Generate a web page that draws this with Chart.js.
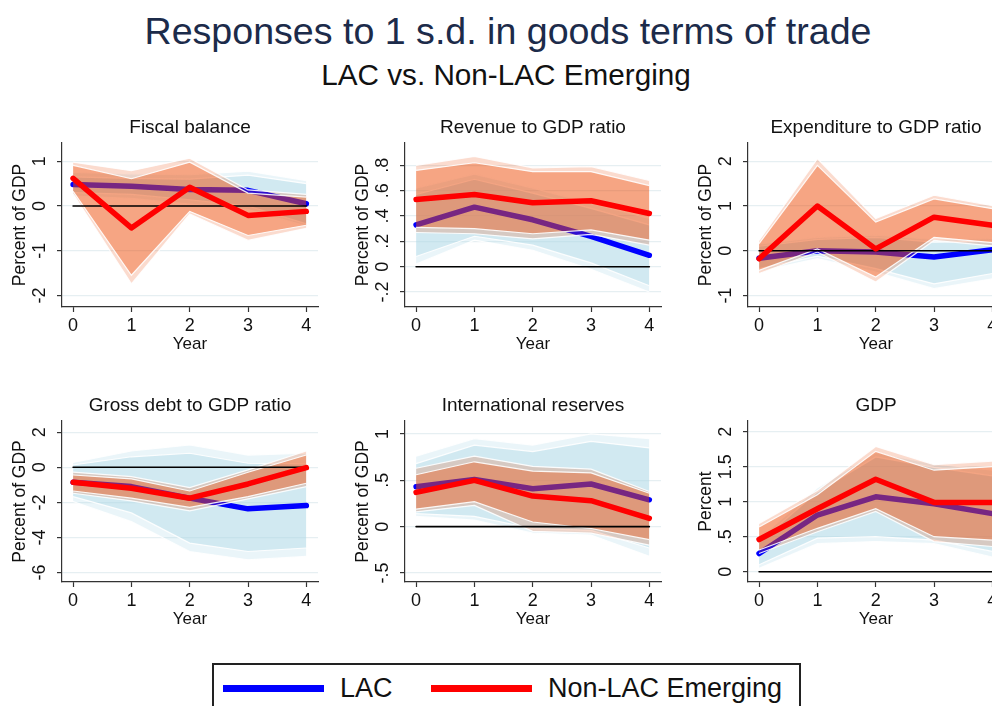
<!DOCTYPE html>
<html>
<head>
<meta charset="utf-8">
<script src="https://cdn.jsdelivr.net/npm/chart.js@4.4.1/dist/chart.umd.min.js"></script>
<style>
  html, body { margin: 0; padding: 0; background: #fff; }
  #page { position: relative; width: 992px; height: 706px; overflow: hidden; background: #fff;
          font-family: "Liberation Sans", Arial, sans-serif; }
  .txt { position: absolute; white-space: nowrap; text-align: center; }
  #mainTitle { left: 0; width: 1016px; top: 11px; font-size: 37.6px; line-height: 40px; color: #1c2b4a; }
  #subTitle { left: 0; width: 1012px; top: 59px; font-size: 29.7px; line-height: 32px; color: #111; }
  .panel { position: absolute; }
  .panel canvas { display: block; }
  #legendBox { position: absolute; left: 212px; top: 663px; width: 585px; height: 60px; border: 2px solid #222; }
  .legLine { position: absolute; height: 7px; }
  .legText { position: absolute; font-size: 27px; line-height: 30px; color: #111; text-align: left; }
</style>
</head>
<body>
<div id="page">
  <div id="mainTitle" class="txt">Responses to 1 s.d. in goods terms of trade</div>
  <div id="subTitle" class="txt">LAC vs. Non-LAC Emerging</div>

  <div class="panel" style="left:0px;top:110px"><canvas id="p1" width="343" height="245"></canvas></div>
  <div class="panel" style="left:343px;top:110px"><canvas id="p2" width="343" height="245"></canvas></div>
  <div class="panel" style="left:686px;top:110px"><canvas id="p3" width="343" height="245"></canvas></div>
  <div class="panel" style="left:0px;top:388px"><canvas id="p4" width="343" height="242"></canvas></div>
  <div class="panel" style="left:343px;top:388px"><canvas id="p5" width="343" height="242"></canvas></div>
  <div class="panel" style="left:686px;top:388px"><canvas id="p6" width="343" height="242"></canvas></div>

  <div id="legendBox"></div>
  <div class="legLine" style="left:223px;top:685px;width:101px;background:#0000ff"></div>
  <div class="legText" style="left:340px;top:673px">LAC</div>
  <div class="legLine" style="left:431px;top:685px;width:101px;background:#ff0000"></div>
  <div class="legText" style="left:548px;top:673px">Non-LAC Emerging</div>
</div>

<script>
// x values (years after the shock) and a reference line at zero
const years = [0, 1, 2, 3, 4];
const zeroLine = [0, 0, 0, 0, 0];

// Fiscal balance
const fiscalTicks = [-2, -1, 0, 1];
const fiscalLac = [0.48, 0.44, 0.37, 0.35, 0.05];
const fiscalLacHiOuter = [0.75, 0.72, 0.70, 0.78, 0.57];
const fiscalLacHiInner = [0.65, 0.62, 0.60, 0.69, 0.50];
const fiscalLacLoInner = [0.30, 0.26, 0.14, 0.00, -0.40];
const fiscalLacLoOuter = [0.22, 0.17, 0.04, -0.08, -0.45];
const fiscalNl = [0.62, -0.49, 0.42, -0.21, -0.12];
const fiscalNlHiOuter = [0.98, 0.79, 1.07, 0.36, 0.26];
const fiscalNlHiInner = [0.91, 0.61, 0.98, 0.29, 0.20];
const fiscalNlLoInner = [0.33, -1.55, -0.12, -0.66, -0.43];
const fiscalNlLoOuter = [0.27, -1.74, -0.18, -0.77, -0.50];

// Revenue to GDP ratio
const revTicks = [-0.2, 0, 0.2, 0.4, 0.6, 0.8];
const revLac = [0.33, 0.47, 0.37, 0.24, 0.09];
const revLacHiOuter = [0.62, 0.73, 0.62, 0.50, 0.38];
const revLacHiInner = [0.57, 0.69, 0.58, 0.46, 0.33];
const revLacLoInner = [0.08, 0.24, 0.17, 0.03, -0.15];
const revLacLoOuter = [0.02, 0.21, 0.13, -0.02, -0.20];
const revNl = [0.53, 0.57, 0.505, 0.52, 0.42];
const revNlHiOuter = [0.80, 0.87, 0.78, 0.79, 0.68];
const revNlHiInner = [0.76, 0.82, 0.75, 0.75, 0.64];
const revNlLoInner = [0.31, 0.30, 0.26, 0.29, 0.21];
const revNlLoOuter = [0.27, 0.26, 0.22, 0.255, 0.17];

// Expenditure to GDP ratio
const expTicks = [-1, 0, 1, 2];
const expLac = [-0.17, 0.0, -0.03, -0.14, 0.02];
const expLacHiOuter = [0.15, 0.30, 0.35, 0.25, 0.27];
const expLacHiInner = [0.10, 0.25, 0.30, 0.19, 0.21];
const expLacLoInner = [-0.40, -0.12, -0.40, -0.74, -0.51];
const expLacLoOuter = [-0.46, -0.18, -0.48, -0.85, -0.63];
const expNl = [-0.18, 1.0, 0.04, 0.75, 0.57];
const expNlHiOuter = [0.23, 2.06, 0.72, 1.24, 1.01];
const expNlHiInner = [0.16, 1.91, 0.64, 1.16, 0.94];
const expNlLoInner = [-0.44, 0.04, -0.59, 0.30, 0.18];
const expNlLoOuter = [-0.51, -0.03, -0.70, 0.23, 0.11];

// Gross debt to GDP ratio
const debtTicks = [-6, -4, -2, 0, 2];
const debtLac = [-0.85, -1.10, -1.76, -2.37, -2.18];
const debtLacHiOuter = [0.28, 0.93, 1.27, 0.70, 0.80];
const debtLacHiInner = [0.13, 0.60, 0.80, 0.23, 0.20];
const debtLacLoInner = [-1.67, -2.60, -4.32, -4.80, -4.60];
const debtLacLoOuter = [-1.95, -3.10, -4.80, -5.27, -5.08];
const debtNl = [-0.85, -1.19, -1.76, -0.95, -0.02];
const debtNlHiOuter = [-0.28, -0.53, -1.16, -0.15, 0.93];
const debtNlHiInner = [-0.44, -0.66, -1.35, -0.28, 0.70];
const debtNlLoInner = [-1.35, -1.76, -2.29, -1.67, -0.91];
const debtNlLoOuter = [-1.48, -1.91, -2.48, -1.80, -1.10];

// International reserves
const resTicks = [-0.5, 0, 0.5, 1];
const resLac = [0.43, 0.51, 0.41, 0.46, 0.29];
const resLacHiOuter = [0.76, 0.95, 0.88, 1.00, 0.95];
const resLacHiInner = [0.68, 0.88, 0.81, 0.92, 0.85];
const resLacLoInner = [0.14, 0.11, -0.02, -0.04, -0.23];
const resLacLoOuter = [0.11, 0.07, -0.07, -0.09, -0.32];
const resNl = [0.37, 0.50, 0.33, 0.28, 0.09];
const resNlHiOuter = [0.63, 0.76, 0.65, 0.62, 0.38];
const resNlHiInner = [0.56, 0.70, 0.60, 0.58, 0.36];
const resNlLoInner = [0.19, 0.27, 0.05, -0.02, -0.14];
const resNlLoOuter = [0.16, 0.23, -0.05, -0.07, -0.20];

// GDP
const gdpTicks = [0, 0.5, 1, 1.5, 2];
const gdpLac = [0.26, 0.81, 1.07, 0.97, 0.83];
const gdpLacHiOuter = [0.47, 1.20, 1.70, 1.54, 1.45];
const gdpLacHiInner = [0.42, 1.14, 1.64, 1.49, 1.37];
const gdpLacLoInner = [0.10, 0.48, 0.50, 0.45, 0.29];
const gdpLacLoOuter = [0.05, 0.40, 0.43, 0.40, 0.21];
const gdpNl = [0.46, 0.90, 1.32, 0.99, 0.99];
const gdpNlHiOuter = [0.69, 1.16, 1.79, 1.53, 1.58];
const gdpNlHiInner = [0.64, 1.10, 1.72, 1.45, 1.50];
const gdpNlLoInner = [0.31, 0.62, 0.90, 0.50, 0.45];
const gdpNlLoOuter = [0.26, 0.57, 0.86, 0.43, 0.36];

const panels = [
    { id: 'p1', title: 'Fiscal balance', yTitle: 'Percent of GDP', yMin: -2.26, yMax: 1.41, ticks: fiscalTicks,
      lac: [fiscalLac, fiscalLacHiOuter, fiscalLacLoOuter, fiscalLacHiInner, fiscalLacLoInner],
      nl: [fiscalNl, fiscalNlHiOuter, fiscalNlLoOuter, fiscalNlHiInner, fiscalNlLoInner] },
    { id: 'p2', title: 'Revenue to GDP ratio', yTitle: 'Percent of GDP', yMin: -0.318, yMax: 0.976, ticks: revTicks,
      lac: [revLac, revLacHiOuter, revLacLoOuter, revLacHiInner, revLacLoInner],
      nl: [revNl, revNlHiOuter, revNlLoOuter, revNlHiInner, revNlLoInner] },
    { id: 'p3', title: 'Expenditure to GDP ratio', yTitle: 'Percent of GDP', yMin: -1.26, yMax: 2.41, ticks: expTicks,
      lac: [expLac, expLacHiOuter, expLacLoOuter, expLacHiInner, expLacLoInner],
      nl: [expNl, expNlHiOuter, expNlLoOuter, expNlHiInner, expNlLoInner] },
    { id: 'p4', title: 'Gross debt to GDP ratio', yTitle: 'Percent of GDP', yMin: -6.54, yMax: 2.64, ticks: debtTicks,
      lac: [debtLac, debtLacHiOuter, debtLacLoOuter, debtLacHiInner, debtLacLoInner],
      nl: [debtNl, debtNlHiOuter, debtNlLoOuter, debtNlHiInner, debtNlLoInner] },
    { id: 'p5', title: 'International reserves', yTitle: 'Percent of GDP', yMin: -0.597, yMax: 1.14, ticks: resTicks,
      lac: [resLac, resLacHiOuter, resLacLoOuter, resLacHiInner, resLacLoInner],
      nl: [resNl, resNlHiOuter, resNlLoOuter, resNlHiInner, resNlLoInner] },
    { id: 'p6', title: 'GDP', yTitle: 'Percent', yMin: -0.147, yMax: 2.153, ticks: gdpTicks,
      lac: [gdpLac, gdpLacHiOuter, gdpLacLoOuter, gdpLacHiInner, gdpLacLoInner],
      nl: [gdpNl, gdpNlHiOuter, gdpNlLoOuter, gdpNlHiInner, gdpNlLoInner] }
];

const FONT = '"Liberation Sans", Arial, sans-serif';
const TICK_SIZE = 18;
const LAC_OUT = 'rgba(173,216,230,0.25)';
const LAC_IN = 'rgba(173,216,230,0.40)';
const NL_OUT = 'rgba(237,75,9,0.20)';
const NL_IN = 'rgba(237,75,9,0.38)';

Chart.defaults.font.family = FONT;
Chart.defaults.color = '#111';

// Stata style labels: .5 instead of 0.5
function fmtTick(v) {
    return String(v).replace(/^(-?)0\./, '$1.');
}

const measureCtx = document.createElement('canvas').getContext('2d');
function widestLabel(ticks) {
    measureCtx.font = TICK_SIZE + 'px ' + FONT;
    return Math.max(...ticks.map(t => measureCtx.measureText(fmtTick(t)).width));
}

const pts = arr => years.map((x, i) => ({ x: x, y: arr[i] }));

function edge(arr, fillColor, target) {
    return {
        data: pts(arr),
        borderColor: 'rgba(255,255,255,0.9)',
        borderWidth: 1.2,
        pointRadius: 0,
        backgroundColor: fillColor || 'transparent',
        fill: target === undefined ? false : { target: target }
    };
}

function line(arr, color, width) {
    return {
        data: pts(arr),
        borderColor: color,
        borderWidth: width,
        pointRadius: 0,
        fill: false,
        borderCapStyle: 'round',
        borderJoinStyle: 'round'
    };
}

function makeChart(p) {
    const [lac, lacHiO, lacLoO, lacHiI, lacLoI] = p.lac;
    const [nl, nlHiO, nlLoO, nlHiI, nlLoI] = p.nl;

    // back to front, the way the layers stack in the original
    const ds = [
        edge(lacHiO, LAC_OUT, 1),
        edge(lacLoO),
        edge(lacHiI, LAC_IN, 3),
        edge(lacLoI),
        line(lac, '#0000ff', 5.5),
        edge(nlHiO, NL_OUT, 6),
        edge(nlLoO),
        edge(nlHiI, NL_IN, 8),
        edge(nlLoI),
        line(zeroLine, '#000000', 1.6),
        line(nl, '#ff0000', 5.5)
    ];
    ds.forEach((d, i) => { d.order = ds.length - i; });

    const yPad = Math.max(0, 17 - widestLabel(p.ticks) / 2);

    new Chart(document.getElementById(p.id), {
        type: 'line',
        data: { datasets: ds },
        options: {
            responsive: false,
            animation: false,
            events: [],
            layout: { padding: { left: 0, right: 25, top: 0, bottom: 0 } },
            plugins: {
                legend: { display: false },
                tooltip: { enabled: false },
                filler: { propagate: false },
                title: {
                    display: true, text: p.title, fullSize: false, color: '#111',
                    font: { size: 19, weight: 'normal' }, padding: { top: 6.2, bottom: 4 }
                }
            },
            scales: {
                x: {
                    type: 'linear', min: -0.19, max: 4.2,
                    afterBuildTicks: s => { s.ticks = years.map(v => ({ value: v })); },
                    afterFit: s => { s.height = 48; },
                    grid: { drawOnChartArea: false, drawTicks: true, tickLength: 5, tickColor: '#333', tickWidth: 1.2 },
                    border: { color: '#333', width: 1.2 },
                    ticks: { autoSkip: false, maxRotation: 0, padding: 3, color: '#111',
                             font: { size: TICK_SIZE }, callback: v => fmtTick(v) },
                    title: { display: true, text: 'Year', color: '#111', font: { size: 17 }, padding: { top: 0, bottom: 0 } }
                },
                y: {
                    type: 'linear', min: p.yMin, max: p.yMax,
                    afterBuildTicks: s => { s.ticks = p.ticks.map(v => ({ value: v })); },
                    afterFit: s => { s.width = 62; },
                    grid: { color: '#e6eff2', lineWidth: 1.2, drawTicks: true, tickLength: 5, tickColor: '#333', tickWidth: 1.2 },
                    border: { color: '#333', width: 1.2 },
                    ticks: { autoSkip: false, minRotation: 90, maxRotation: 90, crossAlign: 'center',
                             padding: yPad, color: '#111', font: { size: TICK_SIZE }, callback: v => fmtTick(v) },
                    title: { display: true, text: p.yTitle, color: '#111', font: { size: 17.5 }, padding: { top: 9.5, bottom: 0 } }
                }
            }
        }
    });
}

panels.forEach(makeChart);
</script>
</body>
</html>
